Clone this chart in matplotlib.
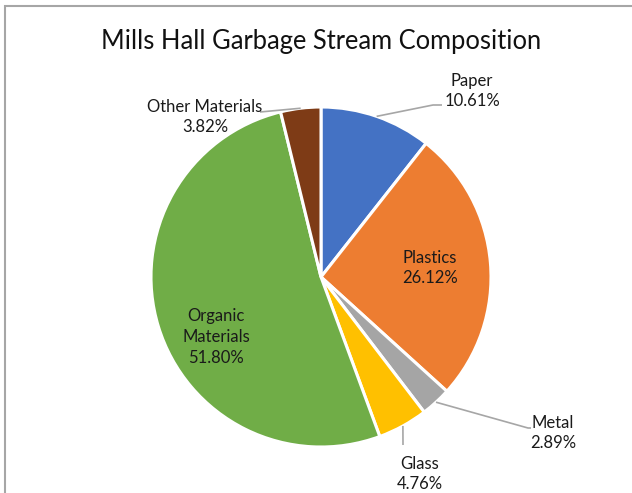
import numpy as np
import matplotlib
matplotlib.use("Agg")
import matplotlib.pyplot as plt
from matplotlib.patches import Rectangle

categories = ["Paper", "Plastics", "Metal", "Glass", "Organic\nMaterials", "Other Materials"]
values = [10.61, 26.12, 2.89, 4.76, 51.80, 3.82]
colors = ["#4472C4", "#ED7D31", "#A5A5A5", "#FFC000", "#70AD47", "#7E3B16"]
title = "Mills Hall Garbage Stream Composition"

plt.rcParams['font.family'] = ['Lato', 'DejaVu Sans']

W, H = 632, 493
fig = plt.figure(figsize=(W / 100, H / 100), dpi=100)
fig.patch.set_facecolor("white")

# pie geometry in pixels
cx, cy, R = 321, 277, 170
ax = fig.add_axes([(cx - R) / W, (H - cy - R) / H, 2 * R / W, 2 * R / H])

wedges, _ = ax.pie(values, colors=colors, startangle=90, counterclock=False,
                   radius=1, wedgeprops=dict(edgecolor="white", linewidth=2.2))
ax.set_xlim(-1, 1)
ax.set_ylim(-1, 1)
ax.set_aspect("equal")
ax.axis("off")


def d(px, py):
    return ((px - cx) / R, (cy - py) / R)


total = sum(values)
cum = np.cumsum([0] + values[:-1])
mids = [np.deg2rad(90 - (c + v / 2) / total * 360) for c, v in zip(cum, values)]

labels = [f"{c}\n{v:.2f}%" for c, v in zip(categories, values)]
label_pos = [(472, 91), (430, 268), (553, 433), (420, 474), (216, 337), (205, 117)]
fs = 12
for lab, (px, py) in zip(labels, label_pos):
    x, y = d(px, py)
    ax.text(x, y, lab, ha="center", va="center", fontsize=fs, color="#1a1a1a",
            linespacing=1.35, clip_on=False)

# leader lines
lc = "#A6A6A6"
leaders = {0: [(433, 105), (442, 105)], 2: [(528, 428), (531, 428)],
           3: [(403, 445)], 5: [(260, 112)]}
for i, pts in leaders.items():
    sx, sy = np.cos(mids[i]), np.sin(mids[i])
    xs = [sx] + [d(*p)[0] for p in pts]
    ys = [sy] + [d(*p)[1] for p in pts]
    ax.plot(xs, ys, color=lc, lw=1.2, clip_on=False, solid_capstyle="butt")

fig.text(321 / W, 1 - 41 / H, title, ha="center", va="center", fontsize=18.4, color="#111111")

# chart border
fig.add_artist(Rectangle((4.5 / W, -0.1), 1.0, 1 - 6.5 / H + 0.1, transform=fig.transFigure,
                         fill=False, edgecolor="#A6A6A6", linewidth=1.5))

fig.savefig("out.png", dpi=100, facecolor="white")
